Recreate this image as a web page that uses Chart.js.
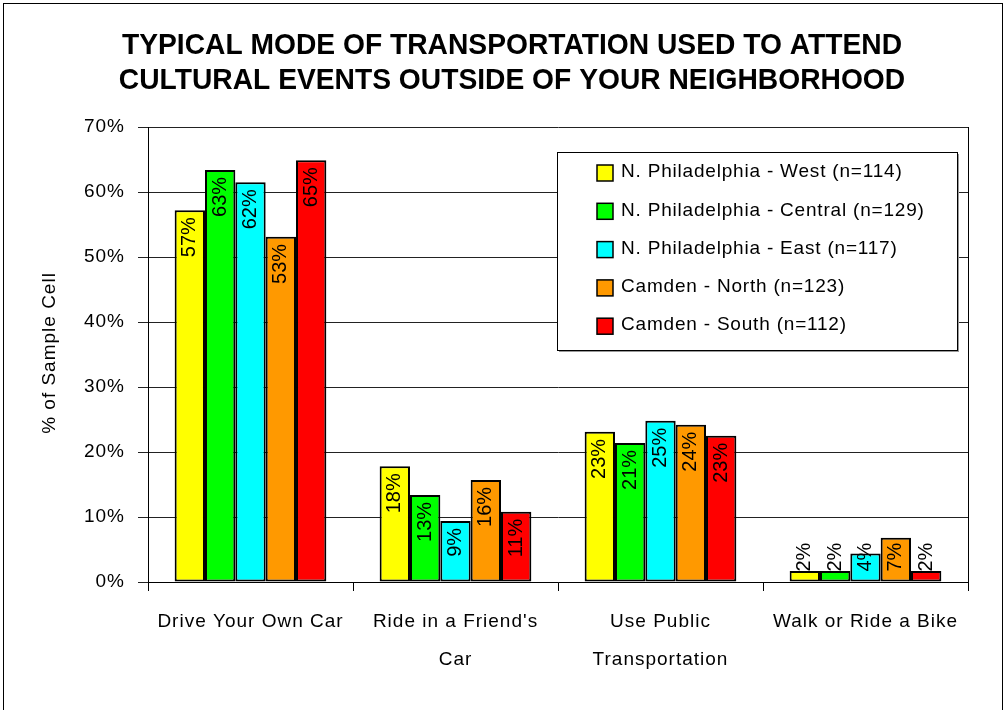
<!DOCTYPE html>
<html>
<head>
<meta charset="utf-8">
<script src="https://cdn.jsdelivr.net/npm/chart.js@4/dist/chart.umd.min.js"></script>
<style>
  html, body { margin: 0; padding: 0; background: #fff; }
  #wrap { width: 1007px; height: 710px; position: relative; }
</style>
</head>
<body>
<div id="wrap"><canvas id="c" width="1007" height="710"></canvas></div>
<script>
// ---- Data ----
const categories = ['Drive Your Own Car', ["Ride in a Friend's", 'Car'], ['Use Public', 'Transportation'], 'Walk or Ride a Bike'];
const seriesNames = [
  'N. Philadelphia - West (n=114)',
  'N. Philadelphia - Central (n=129)',
  'N. Philadelphia - East (n=117)',
  'Camden - North (n=123)',
  'Camden - South (n=112)'
];
const nphWest    = [57.2, 17.8, 23.1, 1.7];
const nphCentral = [63.4, 13.4, 21.4, 1.7];
const nphEast    = [61.5, 9.4, 24.8, 4.4];
const camdenNorth = [53.1, 15.7, 24.2, 6.8];
const camdenSouth = [64.9, 10.8, 22.5, 1.7];
const yTickValues = [0, 10, 20, 30, 40, 50, 60, 70];
const titleLines = ['TYPICAL MODE OF TRANSPORTATION USED TO ATTEND', 'CULTURAL EVENTS OUTSIDE OF YOUR NEIGHBORHOOD'];
const yAxisTitle = '% of Sample Cell';

const seriesValues = [nphWest, nphCentral, nphEast, camdenNorth, camdenSouth];
const seriesColors = ['#FFFF00', '#00FF00', '#00FFFF', '#FF9900', '#FF0000'];
const FONT = '"Liberation Sans", Arial, sans-serif';

const decorPlugin = {
  id: 'decor',
  beforeDraw(chart) {
    const ctx = chart.ctx;
    ctx.fillStyle = '#fff';
    ctx.fillRect(0, 0, chart.width, chart.height);
    ctx.letterSpacing = '1px';
  },
  afterDatasetsDraw(chart) {
    const ctx = chart.ctx;
    const ca = chart.chartArea;
    ctx.save();
    // data labels
    ctx.letterSpacing = '0px';
    ctx.font = '20px ' + FONT;
    ctx.fillStyle = '#000';
    ctx.textBaseline = 'middle';
    ctx.textAlign = 'right';
    chart.data.datasets.forEach((ds, di) => {
      const meta = chart.getDatasetMeta(di);
      meta.data.forEach((el, i) => {
        const txt = Math.round(ds.data[i]) + '%';
        const w = ctx.measureText(txt).width;
        const start = Math.min(el.y + 7, el.base - 10 - w);
        ctx.save();
        ctx.translate(el.x, start);
        ctx.rotate(-Math.PI / 2);
        ctx.fillText(txt, 0, 0);
        ctx.restore();
      });
    });
    // right border of plot
    ctx.strokeStyle = '#000';
    ctx.lineWidth = 1;
    ctx.beginPath();
    ctx.moveTo(Math.round(ca.right) + 0.5, ca.top);
    ctx.lineTo(Math.round(ca.right) + 0.5, ca.bottom);
    ctx.stroke();

    // legend
    const lx = 557, ly = 152, lw = 400, lh = 198;
    ctx.fillStyle = '#999';
    ctx.fillRect(lx + 2, ly + 2, lw, lh);
    ctx.fillStyle = '#fff';
    ctx.fillRect(lx, ly, lw, lh);
    ctx.strokeStyle = '#000';
    ctx.lineWidth = 1;
    ctx.strokeRect(lx + 0.5, ly + 0.5, lw, lh);
    ctx.letterSpacing = '0.8px';
    ctx.font = '19px ' + FONT;
    ctx.textAlign = 'left';
    ctx.textBaseline = 'middle';
    chart.data.datasets.forEach((ds, di) => {
      const cy = 172 + di * 38.3;
      ctx.fillStyle = ds.backgroundColor;
      ctx.fillRect(597, cy - 7, 16, 16);
      ctx.lineWidth = 1.5;
      ctx.strokeStyle = '#000';
      ctx.strokeRect(597, cy - 7, 16, 16);
      ctx.fillStyle = '#000';
      ctx.fillText(ds.label, 621, cy);
    });

    // title (slightly condensed/tall)
    ctx.letterSpacing = '0px';
    ctx.font = 'bold 27px ' + FONT;
    ctx.textAlign = 'center';
    ctx.textBaseline = 'middle';
    ctx.fillStyle = '#000';
    [46, 81].forEach((y, k) => {
      ctx.save();
      ctx.translate(512, y);
      ctx.scale(1.045, 1.12);
      ctx.fillText(titleLines[k], 0, 0);
      ctx.restore();
    });

    // y-axis title
    ctx.letterSpacing = '1px';
    ctx.font = '19px ' + FONT;
    ctx.save();
    ctx.translate(50, 353);
    ctx.rotate(-Math.PI / 2);
    ctx.fillText(yAxisTitle, 0, 0);
    ctx.restore();

    // outer border
    ctx.strokeStyle = '#000';
    ctx.lineWidth = 1;
    ctx.strokeRect(3.5, 3.5, 999, 730);
    ctx.restore();
  }
};

new Chart(document.getElementById('c'), {
  type: 'bar',
  data: {
    labels: categories,
    datasets: seriesNames.map((name, i) => ({
      label: name,
      data: seriesValues[i],
      backgroundColor: seriesColors[i],
      borderColor: '#000',
      borderWidth: 2,
      borderSkipped: false,
      categoryPercentage: 0.74,
      barPercentage: 1.0
    }))
  },
  options: {
    responsive: false,
    animation: false,
    layout: { padding: { top: 127, right: 39, bottom: 0, left: 0 } },
    plugins: {
      legend: { display: false },
      title: { display: false },
      tooltip: { enabled: false }
    },
    scales: {
      x: {
        afterFit(scale) { scale.height = 128; },
        grid: { display: true, drawOnChartArea: false, offset: true, tickLength: 9, color: '#000' },
        border: { display: true, color: '#000', width: 1 },
        ticks: {
          color: '#000',
          padding: 12,
          maxRotation: 0,
          autoSkip: false,
          font: { family: FONT, size: 19, lineHeight: 2 }
        }
      },
      y: {
        min: 0,
        max: 70,
        afterFit(scale) { scale.width = 148; },
        afterBuildTicks(scale) { scale.ticks = yTickValues.map(v => ({ value: v })); },
        grid: { color: '#222', lineWidth: 1, tickLength: 10, drawTicks: true },
        border: { display: true, color: '#000', width: 1 },
        ticks: {
          color: '#000',
          padding: 13,
          font: { family: FONT, size: 19 },
          callback: v => v + '%'
        }
      }
    }
  },
  plugins: [decorPlugin]
});
</script>
</body>
</html>
